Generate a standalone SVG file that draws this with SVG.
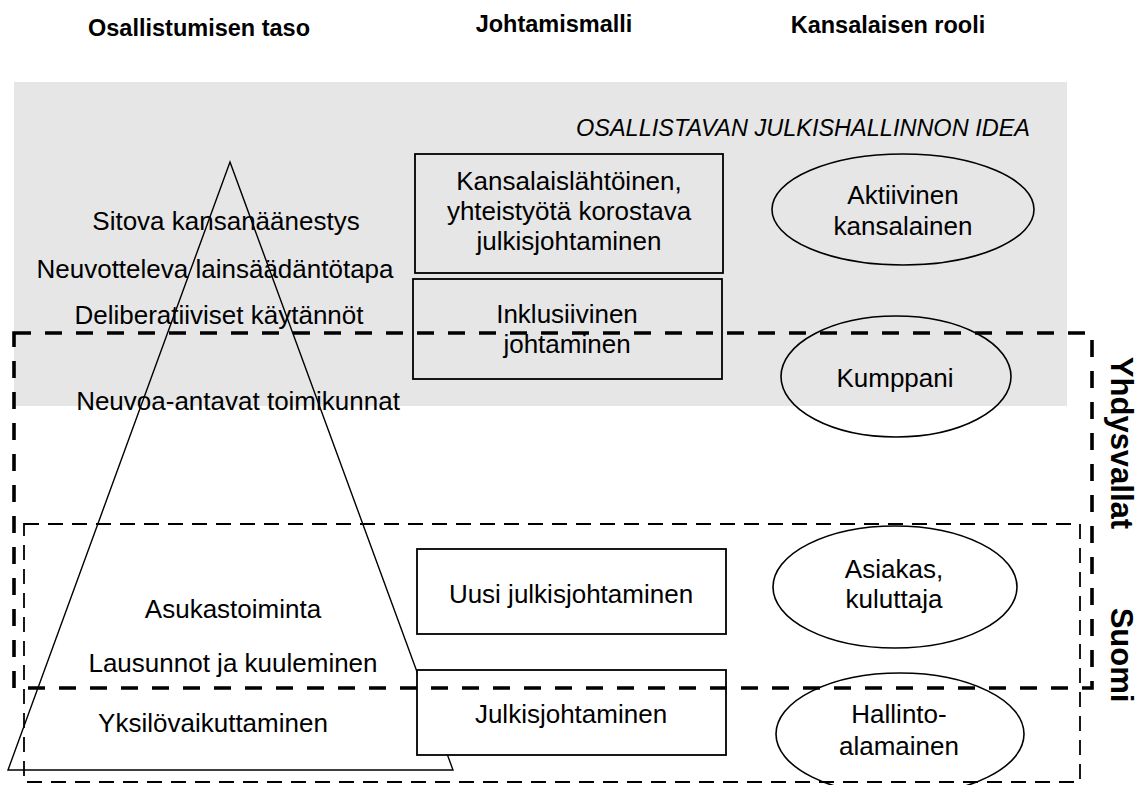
<svg xmlns="http://www.w3.org/2000/svg" width="1141" height="785" viewBox="0 0 1141 785">
<style>
text{font-family:"Liberation Sans",Arial,sans-serif;fill:#000}
.t{font-size:26px;text-anchor:middle}
.h{font-size:23.5px;font-weight:bold;text-anchor:middle}
.v{font-size:31px;font-weight:bold;text-anchor:middle}
.box{stroke:#000;stroke-width:1.8}
.ell{fill:none;stroke:#000;stroke-width:1.6}
.thick{fill:none;stroke:#000;stroke-width:3.6;stroke-dasharray:17 14}
.thin{fill:none;stroke:#000;stroke-width:1.8;stroke-dasharray:15 9}
</style>
<rect width="1141" height="785" fill="#fff"/>
<g id="headers">
<text class="h" x="199" y="36">Osallistumisen taso</text>
<text class="h" x="554" y="32">Johtamismalli</text>
<text class="h" x="888" y="33">Kansalaisen rooli</text>
</g>
<g id="idea-area">
<rect x="14" y="82" width="1053" height="324" fill="#e6e6e6"/>
<text x="1030" y="136" font-size="23.5" font-style="italic" text-anchor="end">OSALLISTAVAN JULKISHALLINNON IDEA</text>
</g>
<g id="pyramid">
<polygon points="230,162 453,770 8,770" fill="none" stroke="#000" stroke-width="1.4"/>
<text class="t" x="226" y="230">Sitova kansanäänestys</text>
<text class="t" x="215" y="278">Neuvotteleva lainsäädäntötapa</text>
<text class="t" x="219" y="324">Deliberatiiviset käytännöt</text>
<text class="t" x="238" y="410">Neuvoa-antavat toimikunnat</text>
<text class="t" x="233" y="618">Asukastoiminta</text>
<text class="t" x="233" y="672">Lausunnot ja kuuleminen</text>
<text class="t" x="213" y="732">Yksilövaikuttaminen</text>
</g>
<g id="box-kansalaislahtoinen">
<rect class="box" x="415" y="154" width="308" height="119" fill="none"/>
<text class="t" x="569" y="190">Kansalaislähtöinen,</text>
<text class="t" x="569" y="220">yhteistyötä korostava</text>
<text class="t" x="569" y="250">julkisjohtaminen</text>
</g>
<g id="box-inklusiivinen">
<rect class="box" x="413" y="279" width="309" height="100" fill="none"/>
<text class="t" x="567" y="323">Inklusiivinen</text>
<text class="t" x="567" y="353">johtaminen</text>
</g>
<g id="box-uusi">
<rect class="box" x="417" y="549" width="309" height="85" fill="#fff"/>
<text class="t" x="571" y="603">Uusi julkisjohtaminen</text>
</g>
<g id="box-julkisjohtaminen">
<rect class="box" x="417" y="670" width="309" height="85" fill="#fff"/>
<text class="t" x="571" y="723">Julkisjohtaminen</text>
</g>
<g id="role-aktiivinen">
<ellipse class="ell" cx="903" cy="209.5" rx="131" ry="55.5"/>
<text class="t" x="903" y="204">Aktiivinen</text>
<text class="t" x="903" y="235">kansalainen</text>
</g>
<g id="role-kumppani">
<ellipse class="ell" cx="896" cy="376.5" rx="115" ry="60.5"/>
<text class="t" x="895" y="387">Kumppani</text>
</g>
<g id="role-asiakas">
<ellipse class="ell" cx="895" cy="587" rx="122" ry="61"/>
<text class="t" x="894" y="578">Asiakas,</text>
<text class="t" x="894" y="608">kuluttaja</text>
</g>
<g id="role-hallintoalamainen">
<ellipse class="ell" cx="900" cy="734" rx="124" ry="61"/>
<text class="t" x="899" y="723">Hallinto-</text>
<text class="t" x="899" y="755">alamainen</text>
</g>
<g id="region-yhdysvallat">
<rect class="thick" x="14" y="333" width="1078" height="355"/>
<text class="v" transform="translate(1111,443) rotate(90)">Yhdysvallat</text>
</g>
<g id="region-suomi">
<rect class="thin" x="24" y="524" width="1056" height="258"/>
<text class="v" transform="translate(1111,655) rotate(90)">Suomi</text>
</g>
<g id="connectors"></g>
</svg>
